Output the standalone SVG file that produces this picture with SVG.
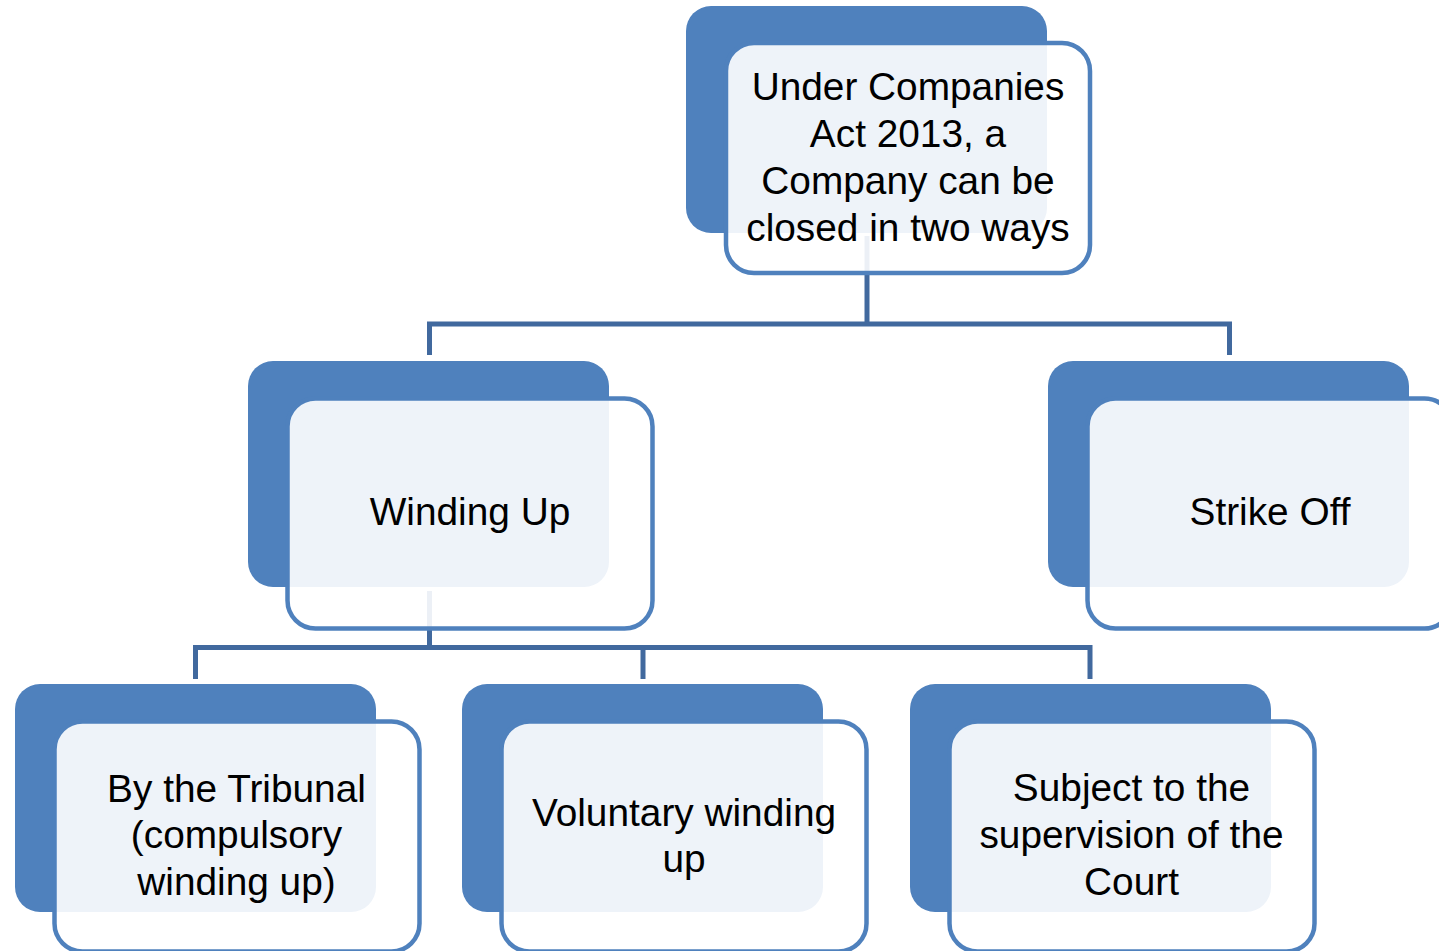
<svg xmlns="http://www.w3.org/2000/svg" width="1439" height="951" viewBox="0 0 1439 951">
<style>
.back{fill:#4f81bd;}
.front{fill:#ffffff;fill-opacity:0.9;stroke:#4f81bd;stroke-width:4.5;}
.conn{fill:none;stroke:#41699e;stroke-width:5;stroke-linejoin:miter;}
.lbl{font-family:"Liberation Sans",Arial,sans-serif;font-size:38.8px;fill:#000000;text-anchor:middle;}
</style>
<rect width="1439" height="951" fill="#ffffff"/>
<g id="connectors">
<path class="conn" d="M867,236 V324"/>
<path class="conn" d="M429.5,355 V324 H1229.5 V355"/>
<path class="conn" d="M429.5,591 V647.5"/>
<path class="conn" d="M195.5,679 V647.5 H1090 V679"/>
<path class="conn" d="M643,647.5 V679"/>
</g>
<g id="node-root">
<rect class="back" x="686" y="6" width="361" height="227" rx="25"/>
<rect class="front" x="726" y="43" width="364" height="230" rx="28"/>
<text class="lbl" x="908" y="100">Under Companies</text>
<text class="lbl" x="908" y="147">Act 2013, a</text>
<text class="lbl" x="908" y="194">Company can be</text>
<text class="lbl" x="908" y="241">closed in two ways</text>
</g>
<g id="node-winding-up">
<rect class="back" x="248" y="361" width="361" height="226" rx="25"/>
<rect class="front" x="287.5" y="398.5" width="365" height="230" rx="28"/>
<text class="lbl" x="470" y="525">Winding Up</text>
</g>
<g id="node-strike-off">
<rect class="back" x="1048" y="361" width="361" height="226" rx="25"/>
<rect class="front" x="1087.5" y="398.5" width="365" height="230" rx="28"/>
<text class="lbl" x="1270" y="525">Strike Off</text>
</g>
<g id="node-tribunal">
<rect class="back" x="15" y="684" width="361" height="228" rx="25"/>
<rect class="front" x="54.5" y="721.5" width="365" height="230" rx="28"/>
<text class="lbl" x="236.5" y="802">By the Tribunal</text>
<text class="lbl" x="236.5" y="848">(compulsory</text>
<text class="lbl" x="236.5" y="895">winding up)</text>
</g>
<g id="node-voluntary">
<rect class="back" x="462" y="684" width="361" height="228" rx="25"/>
<rect class="front" x="501.5" y="721.5" width="365" height="230" rx="28"/>
<text class="lbl" x="684" y="826">Voluntary winding</text>
<text class="lbl" x="684" y="872">up</text>
</g>
<g id="node-court">
<rect class="back" x="910" y="684" width="361" height="228" rx="25"/>
<rect class="front" x="949.5" y="721.5" width="365" height="230" rx="28"/>
<text class="lbl" x="1131.5" y="801">Subject to the</text>
<text class="lbl" x="1131.5" y="848">supervision of the</text>
<text class="lbl" x="1131.5" y="895">Court</text>
</g>
</svg>
